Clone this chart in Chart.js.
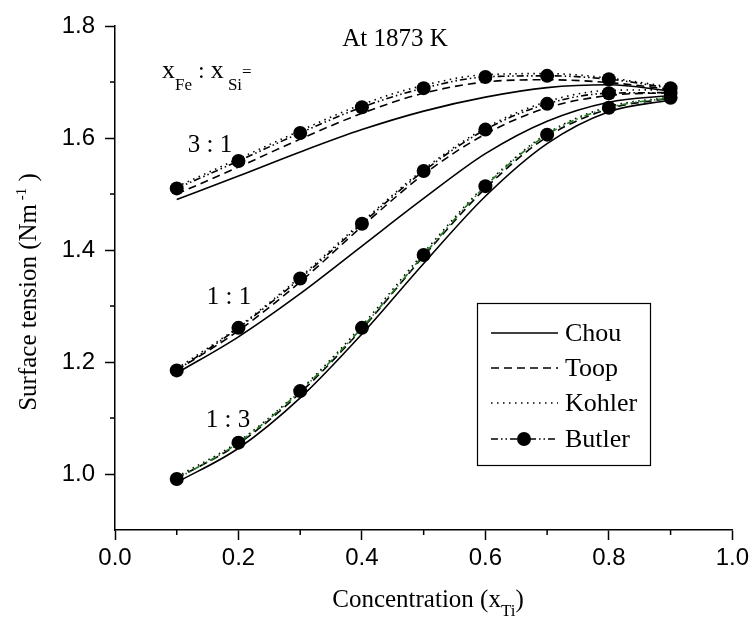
<!DOCTYPE html>
<html>
<head>
<meta charset="utf-8">
<script src="https://cdn.jsdelivr.net/npm/chart.js@4.4.0/dist/chart.umd.min.js"></script>
<style>
html,body{margin:0;padding:0;background:#fff}
#wrap{width:753px;height:617px;position:relative}
</style>
</head>
<body>
<div id="wrap"><canvas id="c" width="753" height="617"></canvas></div>
<script>
// composition x_Ti
const xTi=[0.1,0.2,0.3,0.4,0.5,0.6,0.7,0.8,0.9];
// x_Fe:x_Si = 3:1
const chou31=[1.490,1.532,1.575,1.615,1.648,1.673,1.690,1.695,1.684];
const toop31=[1.500,1.548,1.598,1.644,1.680,1.700,1.704,1.699,1.687];
const kohler31=[1.513,1.563,1.613,1.660,1.694,1.713,1.715,1.707,1.691];
const butler31=[1.510,1.559,1.609,1.655,1.689,1.709,1.711,1.705,1.689];
// 1:1
const chou11=[1.180,1.245,1.322,1.407,1.492,1.572,1.630,1.664,1.676];
const toop11=[1.185,1.256,1.343,1.442,1.535,1.607,1.654,1.676,1.681];
const kohler11=[1.188,1.263,1.352,1.450,1.544,1.618,1.665,1.685,1.686];
const butler11=[1.185,1.261,1.349,1.447,1.541,1.615,1.661,1.680,1.681];
// 1:3
const chou13=[0.985,1.046,1.136,1.250,1.376,1.496,1.590,1.647,1.668];
const toop13=[0.992,1.054,1.145,1.259,1.389,1.510,1.602,1.652,1.671];
const kohler13=[0.995,1.058,1.150,1.265,1.395,1.516,1.608,1.656,1.673];
const butler13=[0.991,1.056,1.148,1.261,1.391,1.514,1.606,1.654,1.672];

const xTicks=[0,0.2,0.4,0.6,0.8,1.0];
const yTicks=[1.0,1.2,1.4,1.6,1.8];
const xMinor=[0.1,0.3,0.5,0.7,0.9];
const yMinor=[1.1,1.3,1.5,1.7];
const methods=['Chou','Toop','Kohler','Butler'];
const ratios=['3 : 1','1 : 1','1 : 3'];

const DASH={Chou:[],Toop:[8,5],Kohler:[1.5,4.5],Butler:[7,3,1.5,3,1.5,3]};
const SERIF='"Liberation Serif","Times New Roman",serif';

function pts(ys){return xTi.map((x,i)=>({x:x,y:ys[i]}));}
function ds(name,ys,color){
  const b=name==='Butler';
  return {label:name,data:pts(ys),borderColor:color||'#000',borderWidth:1.6,borderDash:DASH[name],
    pointRadius:b?7:0,pointBackgroundColor:'#000',pointBorderColor:'#000',pointBorderWidth:0,
    cubicInterpolationMode:'monotone',fill:false,order:b?0:1};
}
const datasets=[
  ds('Butler',butler31),ds('Butler',butler11),ds('Butler',butler13,'#1f7a1f'),
  ds('Chou',chou31),ds('Toop',toop31),ds('Kohler',kohler31),
  ds('Chou',chou11),ds('Toop',toop11),ds('Kohler',kohler11),
  ds('Chou',chou13),ds('Toop',toop13),ds('Kohler',kohler13)
];

function rich(ctx,parts,x,y,align){
  let w=0;
  parts.forEach(p=>{ctx.font=p[1]+'px '+SERIF;w+=ctx.measureText(p[0]).width;});
  let cx=align==='center'?x-w/2:x;
  parts.forEach(p=>{ctx.font=p[1]+'px '+SERIF;ctx.fillText(p[0],cx,y+(p[2]||0));cx+=ctx.measureText(p[0]).width;});
}

const extras={
  id:'extras',
  afterDraw(chart){
    const ctx=chart.ctx,xs=chart.scales.x,ys=chart.scales.y;
    ctx.save();
    // minor ticks
    ctx.strokeStyle='#000';ctx.lineWidth=1.5;ctx.beginPath();
    xMinor.forEach(v=>{const p=xs.getPixelForValue(v);ctx.moveTo(p,ys.bottom);ctx.lineTo(p,ys.bottom+5);});
    yMinor.forEach(v=>{const p=ys.getPixelForValue(v);ctx.moveTo(xs.left,p);ctx.lineTo(xs.left-5,p);});
    ctx.stroke();
    ctx.fillStyle='#000';ctx.textBaseline='alphabetic';
    // annotations
    rich(ctx,[['At 1873 K',25]],395,46,'center');
    rich(ctx,[['x',26],['Fe',17,12],[' : ',24],['x',26],[' Si',17,12],['=',17,-1]],162,78);
    rich(ctx,[[ratios[0],25]],210,152,'center');
    rich(ctx,[[ratios[1],25]],229,304,'center');
    rich(ctx,[[ratios[2],25]],228,427,'center');
    // axis titles
    rich(ctx,[['Concentration (x',25],['Ti',17,9],[')',25]],428,607,'center');
    ctx.save();ctx.translate(36,292);ctx.rotate(-Math.PI/2);
    rich(ctx,[['Surface tension (Nm',25],[' -1',15,-10],[' )',25]],0,0,'center');
    ctx.restore();
    // legend
    const L=477,T=303,R=650,B=465;
    ctx.lineWidth=1.2;ctx.setLineDash([]);ctx.strokeRect(L+0.5,T+0.5,R-L,B-T);
    const rows=[333,368,403,439];
    methods.forEach((m,i)=>{
      const y=rows[i];
      ctx.setLineDash(DASH[m]);ctx.lineWidth=1.6;
      ctx.beginPath();ctx.moveTo(491,y);ctx.lineTo(558,y);ctx.stroke();
      ctx.setLineDash([]);
      if(m==='Butler'){ctx.beginPath();ctx.arc(524,y,7,0,Math.PI*2);ctx.fill();}
      ctx.font='26px '+SERIF;ctx.textBaseline='middle';
      ctx.fillText(m,565,y+1);
      ctx.textBaseline='alphabetic';
    });
    ctx.restore();
  }
};

const tickFont={family:'"Liberation Sans",Arial,sans-serif',size:24};
new Chart(document.getElementById('c'),{
  type:'line',
  data:{datasets},
  options:{
    responsive:false,animation:false,devicePixelRatio:1,
    layout:{padding:{top:26,right:18,left:0,bottom:0}},
    plugins:{legend:{display:false},tooltip:{enabled:false}},
    scales:{
      x:{type:'linear',min:0,max:1,
        afterBuildTicks:s=>{s.ticks=xTicks.map(v=>({value:v}));},
        afterFit:s=>{s.height=87;},
        ticks:{callback:v=>v.toFixed(1),font:tickFont,color:'#000',padding:4,maxRotation:0},
        grid:{drawOnChartArea:false,drawTicks:true,tickLength:10,tickWidth:1.5,tickColor:'#000'},
        border:{display:true,color:'#000',width:1.5}},
      y:{type:'linear',min:0.9,max:1.8,
        afterBuildTicks:s=>{s.ticks=yTicks.map(v=>({value:v}));},
        afterFit:s=>{s.width=115;},
        ticks:{callback:v=>v.toFixed(1),font:tickFont,color:'#000',padding:10},
        grid:{drawOnChartArea:false,drawTicks:true,tickLength:10,tickWidth:1.5,tickColor:'#000'},
        border:{display:true,color:'#000',width:1.5}}
    }
  },
  plugins:[extras]
});
</script>
</body>
</html>
